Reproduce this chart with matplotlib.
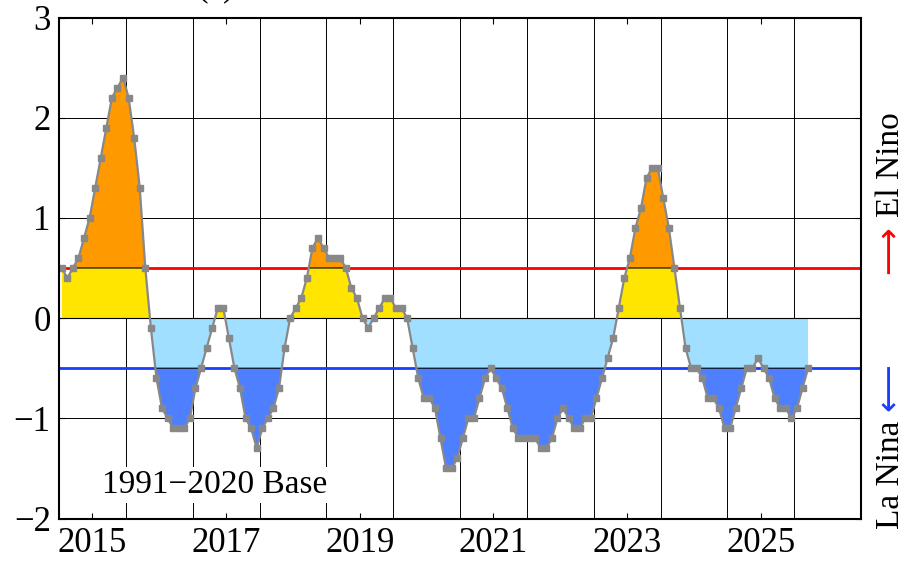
import matplotlib
matplotlib.use("Agg")
import matplotlib.pyplot as plt
import numpy as np

# ONI, 3-month running mean, one value per month starting Jan 2015
oni_2015 = [0.5, 0.4, 0.5, 0.6, 0.8, 1.0, 1.3, 1.6, 1.9, 2.2, 2.3, 2.4]
oni_2016 = [2.2, 1.8, 1.3, 0.5, -0.1, -0.6, -0.9, -1.0, -1.1, -1.1, -1.1, -1.0]
oni_2017 = [-0.7, -0.5, -0.3, -0.1, 0.1, 0.1, -0.2, -0.5, -0.7, -1.0, -1.1, -1.3]
oni_2018 = [-1.1, -1.0, -0.9, -0.7, -0.3, 0.0, 0.1, 0.2, 0.4, 0.7, 0.8, 0.7]
oni_2019 = [0.6, 0.6, 0.6, 0.5, 0.3, 0.2, 0.0, -0.1, 0.0, 0.1, 0.2, 0.2]
oni_2020 = [0.1, 0.1, 0.0, -0.3, -0.6, -0.8, -0.8, -0.9, -1.2, -1.5, -1.5, -1.4]
oni_2021 = [-1.2, -1.0, -1.0, -0.8, -0.6, -0.5, -0.6, -0.7, -0.9, -1.1, -1.2, -1.2]
oni_2022 = [-1.2, -1.2, -1.3, -1.3, -1.2, -1.0, -0.9, -1.0, -1.1, -1.1, -1.0, -1.0]
oni_2023 = [-0.8, -0.6, -0.4, -0.2, 0.1, 0.4, 0.6, 0.9, 1.1, 1.4, 1.5, 1.5]
oni_2024 = [1.2, 0.9, 0.5, 0.1, -0.3, -0.5, -0.5, -0.6, -0.8, -0.8, -0.9, -1.1]
oni_2025 = [-1.1, -0.9, -0.7, -0.5, -0.5, -0.4, -0.5, -0.6, -0.8, -0.9, -0.9, -1.0]
oni_2026 = [-0.9, -0.7, -0.5]

oni = np.array(oni_2015 + oni_2016 + oni_2017 + oni_2018 + oni_2019 + oni_2020
               + oni_2021 + oni_2022 + oni_2023 + oni_2024 + oni_2025 + oni_2026)
t = 2015 + (np.arange(len(oni)) + 0.5) / 12.0

year_labels = ["2015", "2017", "2019", "2021", "2023", "2025"]
thr = 0.5

plt.rcParams["font.family"] = ["Liberation Serif", "DejaVu Serif"]
plt.rcParams["font.size"] = 25

fig = plt.figure(figsize=(9.05, 5.64), dpi=100)
ax = fig.add_axes([59 / 905, 1 - 518.5 / 564, 802 / 905, 501 / 564])

ax.set_xlim(2015, 2027)
ax.set_ylim(-2, 3)

# reference lines (under the fills)
ax.axhline(thr, color="#ff0000", lw=2.0, zorder=1)
ax.axhline(-thr, color="#1a3cff", lw=2.0, zorder=1)

# fills
ax.fill_between(t, 0, oni, where=oni > 0, interpolate=True, color="#ffe500", lw=0, zorder=2)
ax.fill_between(t, thr, oni, where=oni > thr, interpolate=True, color="#ff9900", lw=0, zorder=2.1)
ax.fill_between(t, 0, oni, where=oni < 0, interpolate=True, color="#a0dfff", lw=0, zorder=2)
ax.fill_between(t, -thr, oni, where=oni < -thr, interpolate=True, color="#4d7fff", lw=0, zorder=2.1)

# thin black edges at the thresholds inside the strong-event fills
td = np.linspace(t[0], t[-1], 6000)
vd = np.interp(td, t, oni)
ax.plot(td, np.where(vd > thr, thr, np.nan), color="k", lw=0.8, zorder=2.5)
ax.plot(td, np.where(vd < -thr, -thr, np.nan), color="k", lw=0.8, zorder=2.5)
ax.axhline(0, color="k", lw=0.8, zorder=2.5)

ax.plot(t, oni, "-s", color="#888888", lw=1.6, ms=5, mec="#888888", zorder=3)

# ticks and grid
ax.set_xticks([2015.5 + 2 * i for i in range(len(year_labels))])
ax.set_xticklabels(year_labels)
ax.set_xticks(np.arange(2016, 2027), minor=True)
ax.set_yticks(np.arange(-2, 4))
ax.tick_params(which="major", direction="in", top=True, right=True, length=4, width=0.8, pad=6)
ax.tick_params(which="minor", length=0)
ax.grid(which="minor", axis="x", color="k", lw=0.7, zorder=0)
ax.grid(which="major", axis="y", color="k", lw=0.7, zorder=0)
ax.set_axisbelow(True)
for s in ax.spines.values():
    s.set_linewidth(1.5)
    s.set_zorder(5)

ax.text(2015.64, -1.75, "1991\u22122020 Base", fontsize=24, ha="left", va="baseline",
        zorder=4, bbox=dict(facecolor="white", edgecolor="none", pad=2))

# side labels
fig.text(891 / 905, 1 - 164.5 / 564, "El Nino", rotation=90, ha="center", va="center", fontsize=24)
fig.text(889 / 905, 1 - 250 / 564, "\u27f6", rotation=90, ha="center", va="center", fontsize=24,
         color="#ff0000", family="DejaVu Sans")
fig.text(891 / 905, 1 - 475 / 564, "La Nina", rotation=90, ha="center", va="center", fontsize=24)
fig.text(889 / 905, 1 - 387 / 564, "\u27f5", rotation=90, ha="center", va="center", fontsize=24,
         color="#1a3cff", family="DejaVu Sans")

fig.text(215.5 / 905, 1 + 5 / 564, "(c)", ha="center", va="baseline", fontsize=25)

fig.savefig("out.png", dpi=100)
